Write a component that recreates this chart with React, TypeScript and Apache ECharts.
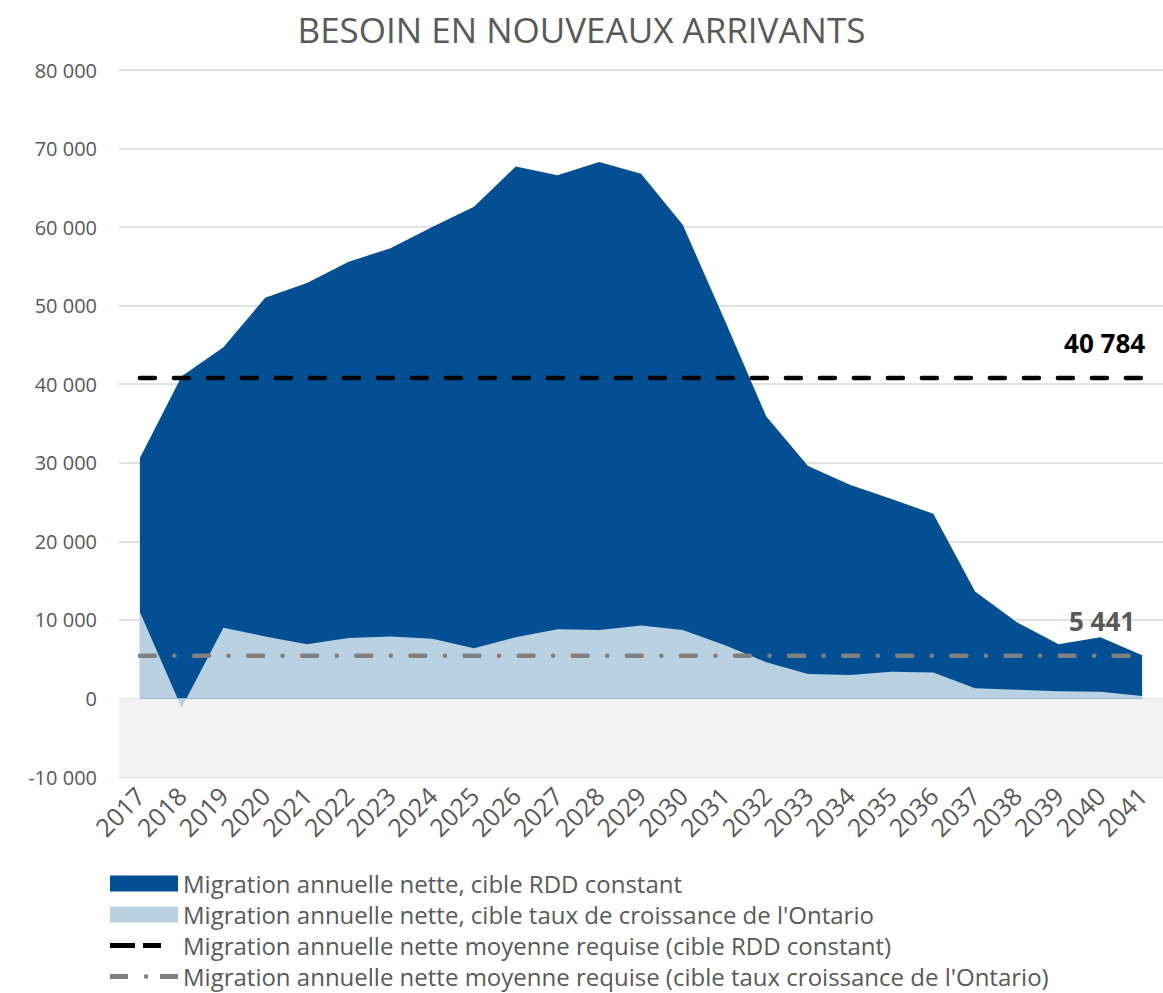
import React, { useEffect, useRef } from "react";
import * as echarts from "echarts";

const categories = [
  "2017", "2018", "2019", "2020", "2021", "2022", "2023", "2024", "2025",
  "2026", "2027", "2028", "2029", "2030", "2031", "2032", "2033", "2034",
  "2035", "2036", "2037", "2038", "2039", "2040", "2041",
];

const rddConstant = [
  30600, 41000, 44700, 51000, 52900, 55600, 57300, 60000, 62600, 67700,
  66600, 68300, 66800, 60300, 48200, 35900, 29600, 27200, 25400, 23500,
  13600, 9700, 6900, 7800, 5500,
];

const ontarioRate = [
  11000, -1200, 9000, 7900, 6900, 7700, 7900, 7600, 6400, 7800, 8800, 8700,
  9300, 8700, 6800, 4600, 3100, 3000, 3400, 3300, 1300, 1100, 900, 850, 300,
];

const avgRdd = 40784;
const avgOntario = 5441;

const seriesNames = [
  "Migration annuelle nette, cible RDD constant",
  "Migration annuelle nette, cible taux de croissance de l'Ontario",
  "Migration annuelle nette moyenne requise (cible RDD constant)",
  "Migration annuelle nette moyenne requise (cible taux croissance de l'Ontario)",
];

const FONT = "'Open Sans', sans-serif";
const TEXT = "#595959";

// legend icons (68 x 16 box), tiny corner marks keep the bounding box
const BOX = "M0,0h0.01v0.01h-0.01z M67.99,15.99h0.01v0.01h-0.01z";
const dashIcon =
  "path://" + BOX + " M0,5.5h25v5h-25z M33,5.5h18v5h-18z";
const dashDotIcon =
  "path://" + BOX + " M0,5.5h18v5h-18z M34,6h4v4h-4z M50,5.5h18v5h-18z";

const fmt = (v: number) =>
  String(v).replace(/\B(?=(\d{3})+(?!\d))/g, " ");

export default function App() {
  const ref = useRef<HTMLDivElement>(null);
  useEffect(() => {
    if (!ref.current) return;
    const chart = echarts.init(ref.current, undefined, { renderer: "svg" });
    const last = categories[categories.length - 1];
    const endMark = (v: number, color: string, dx: number, dy: number) => ({
      silent: true,
      symbol: "circle",
      symbolSize: 1,
      itemStyle: { color: "rgba(0,0,0,0)" },
      label: {
        show: true,
        position: "top",
        align: "right",
        verticalAlign: "middle",
        distance: 0,
        offset: [dx, dy],
        fontFamily: FONT,
        fontSize: 26,
        fontWeight: "bold",
        color,
        formatter: (p: any) => fmt(p.value),
      },
      data: [{ coord: [last, v], value: v }],
    });
    chart.setOption({
      animation: false,
      backgroundColor: "#ffffff",
      textStyle: { fontFamily: FONT },
      title: {
        text: "BESOIN EN NOUVEAUX ARRIVANTS",
        left: "center",
        top: 7,
        textStyle: {
          fontFamily: FONT,
          fontSize: 35,
          fontWeight: "normal",
          color: TEXT,
        },
      },
      grid: { left: 119, right: 0, top: 70, bottom: 216, containLabel: false },
      legend: {
        orient: "vertical",
        left: 105,
        top: 866,
        height: 200,
        itemWidth: 68,
        itemHeight: 16,
        itemGap: 6,
        textStyle: {
          fontFamily: FONT,
          fontSize: 24,
          lineHeight: 25,
          color: TEXT,
        },
        data: [
          { name: seriesNames[0], icon: "rect" },
          { name: seriesNames[1], icon: "rect" },
          { name: seriesNames[2], icon: dashIcon },
          { name: seriesNames[3], icon: dashDotIcon },
        ],
      },
      xAxis: {
        type: "category",
        data: categories,
        boundaryGap: true,
        axisLine: { show: false },
        axisTick: { show: false },
        axisLabel: {
          rotate: 45,
          interval: 0,
          margin: 14,
          fontFamily: FONT,
          fontSize: 25,
          color: TEXT,
        },
      },
      yAxis: {
        type: "value",
        min: -10000,
        max: 80000,
        interval: 10000,
        axisLine: { show: false },
        axisTick: { show: false },
        splitLine: { lineStyle: { color: "#d9d9d9", width: 1.5 } },
        axisLabel: {
          margin: 22,
          fontFamily: FONT,
          fontSize: 20,
          color: TEXT,
          formatter: (v: number) => fmt(v),
        },
      },
      series: [
        {
          name: seriesNames[0],
          type: "line",
          data: rddConstant,
          symbol: "none",
          lineStyle: { width: 0 },
          itemStyle: { color: "#034f93" },
          areaStyle: { color: "#034f93", opacity: 1 },
          z: 2,
          markArea: {
            silent: true,
            itemStyle: { color: "#f2f2f2" },
            data: [[{ yAxis: -10000 }, { yAxis: 0 }]],
          },
        },
        {
          name: seriesNames[1],
          type: "line",
          data: ontarioRate,
          symbol: "none",
          lineStyle: { width: 0 },
          itemStyle: { color: "#b9d1e0" },
          areaStyle: { color: "#b9d1e0", opacity: 1 },
          z: 3,
        },
        {
          name: seriesNames[2],
          type: "line",
          data: categories.map(() => avgRdd),
          symbol: "none",
          itemStyle: { color: "#000000" },
          lineStyle: {
            color: "#000000",
            width: 4.5,
            type: [15, 19],
            cap: "round",
          },
          markPoint: endMark(avgRdd, "#000000", 3, -35),
          z: 4,
        },
        {
          name: seriesNames[3],
          type: "line",
          data: categories.map(() => avgOntario),
          symbol: "none",
          itemStyle: { color: "#808080" },
          lineStyle: {
            color: "#808080",
            width: 4.5,
            type: [15, 19.5, 0.1, 19.5],
            cap: "round",
          },
          markPoint: endMark(avgOntario, TEXT, -7, -34),
          z: 4,
        },
      ],
    });
    return () => chart.dispose();
  }, []);
  return (
    <div
      ref={ref}
      style={{ position: "absolute", left: 0, top: 0, width: 1163, height: 993 }}
    />
  );
}
